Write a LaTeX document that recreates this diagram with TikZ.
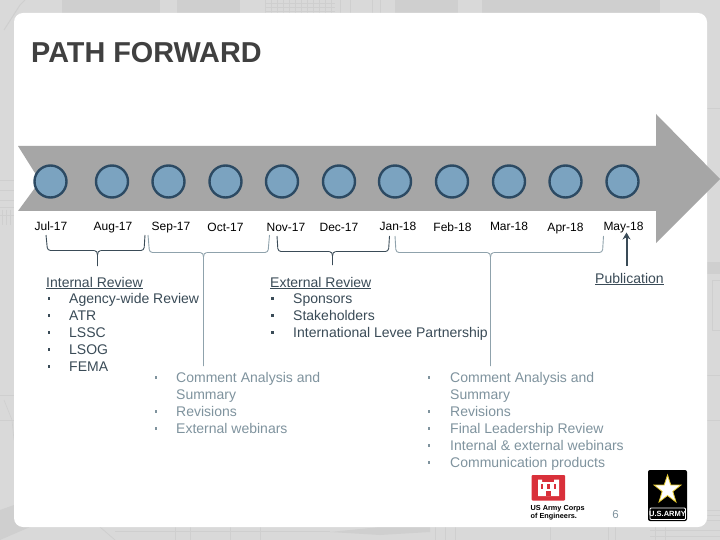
\documentclass[tikz,border=0pt]{standalone}
\usepackage{fontspec}
\setmainfont{Liberation Sans}
\usetikzlibrary{arrows.meta,calc}
\definecolor{bgg}{HTML}{D9D9D9}
\definecolor{bgl}{HTML}{CFCFCF}
\definecolor{band}{HTML}{A6A6A6}
\definecolor{circf}{HTML}{7BA3C0}
\definecolor{circd}{HTML}{2C4A63}
\definecolor{darkt}{HTML}{3A4B57}
\definecolor{lightt}{HTML}{7F939E}
\definecolor{titlec}{HTML}{404040}
\definecolor{brl}{HTML}{8FA2AC}
\definecolor{usred}{HTML}{D9303A}
\tikzset{
  x=1pt,y=-1pt,
  dot/.style={circle,draw=circd,line width=2.4pt,fill=circf,minimum size=32pt,inner sep=0pt},
  mon/.style={font=\fontsize{12}{14}\selectfont,text=black,inner sep=0pt,anchor=base},
  body/.style={font=\fontsize{14}{17}\selectfont,inner sep=0pt,anchor=base west},
  dk/.style={body,text=darkt},
  lt/.style={body,text=lightt},
  bul/.style={fill,minimum size=2.6pt,inner sep=0pt},
  brdark/.style={draw=darkt,line width=0.9pt,rounded corners=3pt},
  brlight/.style={draw=brl,line width=0.9pt,rounded corners=3pt},
}
\newcommand{\ul}[1]{\underline{#1}}
\begin{document}
\begin{tikzpicture}
\useasboundingbox (0,0) rectangle (720,540);
\fill[bgg] (0,0) rectangle (720,540);
% faint blueprint background
\fill[bgl] (62,0) rectangle (160,13);
\fill[bgl] (177,0) rectangle (240,13);
\fill[bgl] (395,0) rectangle (458,13);
\fill[bgl] (482,0) rectangle (660,13);
\foreach \xx in {265,271,277,283,289,295,301,307,313,319,325,331,340,350,372,380}{\draw[bgl,line width=0.5pt] (\xx,0) -- (\xx,13);}
\foreach \yy in {3,7,11}{\draw[bgl,line width=0.5pt] (265,\yy) -- (335,\yy);}
\draw[bgl,line width=1pt] (4,30) -- (20,5) -- (25,0);
\foreach \yy in {180,190,200,207,215}{\draw[bgl,line width=0.6pt] (0,\yy) -- (14,\yy);}
\foreach \xx in {2,6,10}{\draw[bgl,line width=0.5pt] (\xx,210) -- (\xx,225);}
\draw[bgl,line width=0.6pt] (4,400) -- (12,420) -- (14,440);
\draw[bgl,line width=0.6pt] (0,395) -- (14,395);
\draw[bgl,line width=0.6pt] (0,420) -- (14,420);
\fill[bgl] (0,510) -- (14,505) -- (30,527) -- (0,540) -- cycle;
\draw[bgl,line width=0.8pt] (100,527) -- (115,540);
\draw[bgl,line width=0.6pt] (115,531) -- (330,531);
\fill[bgl] (330,532) -- (380,527) -- (430,527) -- (430,532) -- (380,535) -- cycle;
\foreach \xx in {175,190,230,260,435,445,455,550,608,615,655,665}{\draw[bgl,line width=0.6pt] (\xx,527) -- (\xx,540);}
\foreach \yy in {530,536}{\draw[bgl,line width=0.5pt] (650,\yy) -- (720,\yy);}
\fill[bgl] (707,262) rectangle (720,274);
\draw[bgl,line width=0.6pt] (712,280) rectangle (720,330);
\draw[bgl,line width=0.6pt] (707,108) -- (720,108);
\draw[bgl,line width=0.6pt] (707,375) -- (720,375);
\draw[bgl,line width=0.6pt] (707,420) -- (720,420);
\foreach \yy in {510,515,520}{\draw[bgl,line width=0.6pt] (707,\yy) -- (720,\yy);}
\fill[white,rounded corners=9pt] (14,13) rectangle (707,527);

\node[font=\fontsize{28.8}{30}\selectfont\bfseries,text=titlec,inner sep=0pt,anchor=base west] (title) at (31,63) {PATH FORWARD};

% arrow band
\fill[band] (18,146) -- (656,146) -- (656,114) -- (720,179) -- (656,243) -- (656,211) -- (18,211) -- (40,181) -- cycle;

% timeline dots
\foreach \n/\xx in {a/50.5,b/112,c/168.5,d/225.5,e/282,f/339,g/395,h/452,i/509,j/565.5,k/622.5}
  \node[dot] (\n) at (\xx,181.5) {};

% month labels
\node[mon] (m1) at (51,230) {Jul-17};
\node[mon] (m2) at (113,230) {Aug-17};
\node[mon] (m3) at (171,230) {Sep-17};
\node[mon] (m4) at (225.5,231) {Oct-17};
\node[mon] (m5) at (286,231) {Nov-17};
\node[mon] (m6) at (339,231) {Dec-17};
\node[mon] (m7) at (398,230) {Jan-18};
\node[mon] (m8) at (452.5,231) {Feb-18};
\node[mon] (m9) at (509,230) {Mar-18};
\node[mon] (m10) at (565.5,231) {Apr-18};
\node[mon] (m11) at (623.5,230) {May-18};

% text blocks
\node[dk] (int) at (46,287) {\ul{Internal Review}};
\foreach \n/\yy/\tx in {p1/303/Agency-wide Review,p2/320/ATR,p3/337/LSSC,p4/354/LSOG,p5/371/FEMA}{
  \node[dk] (\n) at (69,\yy) {\tx};
  \node[bul,darkt] (\n b) at (49,\yy-4.5) {};
}
\node[dk] (ext) at (270,287) {\ul{External Review}};
\foreach \n/\yy/\tx in {q1/303/Sponsors,q2/320/Stakeholders,q3/337/International Levee Partnership}{
  \node[dk] (\n) at (293,\yy) {\tx};
  \node[bul,darkt] (\n b) at (272.5,\yy-4.5) {};
}
\foreach \n/\yy/\tx in {r1/382/Comment Analysis and,r2/399/Summary,r3/416/Revisions,r4/433/External webinars}{
  \node[lt] (\n) at (176,\yy) {\tx};
}
\foreach \n/\yy in {r1/382,r3/416,r4/433}{
  \node[bul,lightt] (\n b) at (156,\yy-4.5) {};
}
\foreach \n/\yy/\tx in {s1/382/Comment Analysis and,s2/399/Summary,s3/416/Revisions,s4/433/Final Leadership Review,s5/450/Internal \& external webinars,s6/467/Communication products}{
  \node[lt] (\n) at (450,\yy) {\tx};
}
\foreach \n/\yy in {s1/382,s3/416,s4/433,s5/450,s6/467}{
  \node[bul,lightt] (\n b) at (429,\yy-4.5) {};
}
\node[dk] (pub) at (595,283) {\ul{Publication}};

% brackets
\coordinate (b1l) at (46,235); \coordinate (b1r) at (145,235); \coordinate (b1m) at (97.5,255); \coordinate (b1s) at (97.5,266);
\draw[brdark] (b1l) -- (47.5,250.5) -- (94.5,250.5);
\draw[brdark] (b1r) -- (144,250.5) -- (100.5,250.5);
\draw[darkt,line width=0.9pt] (94.5,250.5) to[out=0,in=90] (b1m) -- (b1s);
\draw[darkt,line width=0.9pt] (100.5,250.5) to[out=180,in=90] (b1m);
\coordinate (b2l) at (148,235); \coordinate (b2r) at (269.5,235); \coordinate (b2m) at (203.5,257); \coordinate (b2s) at (203.5,366);
\draw[brlight] (b2l) -- (149.5,252.5) -- (200.5,252.5);
\draw[brlight] (b2r) -- (268,252.5) -- (206.5,252.5);
\draw[brl,line width=0.9pt] (200.5,252.5) to[out=0,in=90] (b2m) -- (b2s);
\draw[brl,line width=0.9pt] (206.5,252.5) to[out=180,in=90] (b2m);
\coordinate (b3l) at (277,236); \coordinate (b3r) at (389.5,236); \coordinate (b3m) at (332.5,256); \coordinate (b3s) at (332.5,265);
\draw[brdark] (b3l) -- (278,251.5) -- (329.5,251.5);
\draw[brdark] (b3r) -- (388.5,251.5) -- (335.5,251.5);
\draw[darkt,line width=0.9pt] (329.5,251.5) to[out=0,in=90] (b3m) -- (b3s);
\draw[darkt,line width=0.9pt] (335.5,251.5) to[out=180,in=90] (b3m);
\coordinate (b4l) at (395,236); \coordinate (b4r) at (603.5,236); \coordinate (b4m) at (490.5,257); \coordinate (b4s) at (490.5,366);
\draw[brlight] (b4l) -- (396,252.5) -- (487.5,252.5);
\draw[brlight] (b4r) -- (602.5,252.5) -- (493.5,252.5);
\draw[brl,line width=0.9pt] (487.5,252.5) to[out=0,in=90] (b4m) -- (b4s);
\draw[brl,line width=0.9pt] (493.5,252.5) to[out=180,in=90] (b4m);

% publication arrow
\coordinate (pa) at (626.5,266);
\coordinate (pb) at (626.5,232.5);
\draw[darkt,line width=2pt,-{Stealth[length=7pt,width=8pt]}] (pa) -- (pb);

% page number
\node[font=\fontsize{11.5}{13}\selectfont,text=lightt,inner sep=0pt,anchor=base] (pg) at (615.5,518) {6};

% USACE logo
\fill[usred,rounded corners=1pt] (531.5,475) rectangle (565,500.5);
\fill[white] (538,479.5) -- (542,479.5) -- (542,482) -- (554,482) -- (554,479.5) -- (559,479.5) -- (559,496) -- (538,496) -- cycle;
\foreach \xx in {540.5,547,553.5}{\fill[usred] (\xx,484) rectangle (\xx+2.5,489);}
\fill[usred] (546,491) rectangle (551,496);
\node[font=\fontsize{7.3}{7.8}\selectfont\bfseries,align=left,text=black,inner sep=0pt,anchor=north west] (usace) at (530.5,505) {US Army Corps\\of Engineers.};

% US Army logo
\fill[black,rounded corners=2pt] (648,470) rectangle (687,521);
\draw[white,line width=0.8pt,rounded corners=1pt] (650,508) rectangle (685.5,519.5);
\node[font=\fontsize{7.5}{8}\selectfont\bfseries,text=white,inner sep=0pt] (usa) at (667.5,514) {U.S.ARMY};
\fill[white,draw=yellow!60!brown,line width=0.8pt]
  (667.5,475) -- (670.8,485) -- (681,485) -- (672.8,491.5) -- (676,502) -- (667.5,495.5) -- (659,502) -- (662.2,491.5) -- (654,485) -- (664.2,485) -- cycle;
\end{tikzpicture}
\end{document}
